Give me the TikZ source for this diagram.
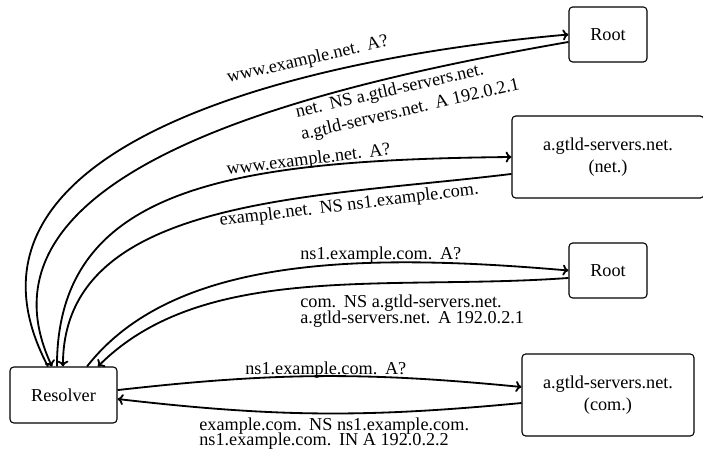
\documentclass[tikz,border=0pt]{standalone}
\usepackage{fontspec}
\setmainfont{Liberation Serif}
\usetikzlibrary{arrows.meta}
\begin{document}
\begin{tikzpicture}[x=0.549pt, y=-0.549pt,
  server/.style={draw, line width=0.6pt, rounded corners=2pt, inner sep=0pt, align=center},
  msg/.style={draw, line width=1pt},
  % wider space after a full stop, as in the message texts
  lbl/.style={inner sep=0pt, anchor=base west, font={\xspaceskip=4.2pt plus 1pt minus 0.5pt\relax}},
  >={To[length=3.2pt, width=6pt]}]
\fill[white] (0,0) rectangle (703,457);
\useasboundingbox (0,0) rectangle (703,457);

% servers
\node[server, minimum width=58.7pt, minimum height=30.7pt] (res) at (63.5,395) {Resolver};
\node[server, minimum width=42.8pt, minimum height=30.2pt] (root1) at (608,34.5) {Root};
\node[server, minimum width=105.4pt, minimum height=45pt] (net) at (608,157) {a.gtld-servers.net.\\(net.)};
\node[server, minimum width=42.8pt, minimum height=30.2pt] (root2) at (608,270.5) {Root};
\node[server, minimum width=94.4pt, minimum height=45pt] (com) at (608,395) {a.gtld-servers.net.\\(com.)};

% query to the root for www.example.net
\draw[msg, ->] ([xshift=-8.5pt]res.north) .. controls +(-117,-221) and +(-269,23.5) .. (root1.west);
\draw[msg, ->] ([yshift=-4.1pt]root1.west) .. controls +(-246,43) and +(-93,-199) .. ([xshift=-6.3pt]res.north);
% query to the net. server
\draw[msg, ->] ([xshift=-3.6pt]res.north) .. controls +(0,-180) and +(-280,3) .. (net.west);
\draw[msg, ->] ([yshift=-9.3pt]net.west) .. controls +(-198.5,24.4) and +(0,-170) .. ([xshift=-0.3pt]res.north);
% query to the root for ns1.example.com
\draw[msg, ->] ([xshift=12.9pt]res.north) .. controls +(86,-110) and +(-209,-18) .. (root2.west);
\draw[msg, ->] ([yshift=-4.1pt]root2.west) .. controls +(-180,13) and +(106,-106) .. ([xshift=18.9pt]res.north);
% query to the com. server
\draw[msg, ->] ([yshift=2.7pt]res.east) to[bend left=6] ([yshift=4.4pt]com.west);
\draw[msg, ->] ([yshift=-4.4pt]com.west) to[bend left=6] ([yshift=-2.2pt]res.east);

% messages (multi-line texts are placed by the baseline of their last line)
\node[lbl, rotate=13] (q1) at (228,83) {www.example.net. A?};
\node[lbl, rotate=13, align=left] (r1) at (302,140) {net. NS a.gtld-servers.net.\\[0.6pt]a.gtld-servers.net. A 192.0.2.1};
\node[lbl, rotate=7] (q2) at (227,175) {www.example.net. A?};
\node[lbl, rotate=7] (r2) at (220,226) {example.net. NS ns1.example.com.};
\node[lbl] (q3) at (300,260) {ns1.example.com. A?};
\node[lbl, align=left] (r3) at (300,324) {com. NS a.gtld-servers.net.\\[-3.2pt]a.gtld-servers.net. A 192.0.2.1};
\node[lbl] (q4) at (245,375) {ns1.example.com. A?};
\node[lbl, align=left] (r4) at (199,445) {example.com. NS ns1.example.com.\\[-3.8pt]ns1.example.com. IN A 192.0.2.2};
\end{tikzpicture}
\end{document}
